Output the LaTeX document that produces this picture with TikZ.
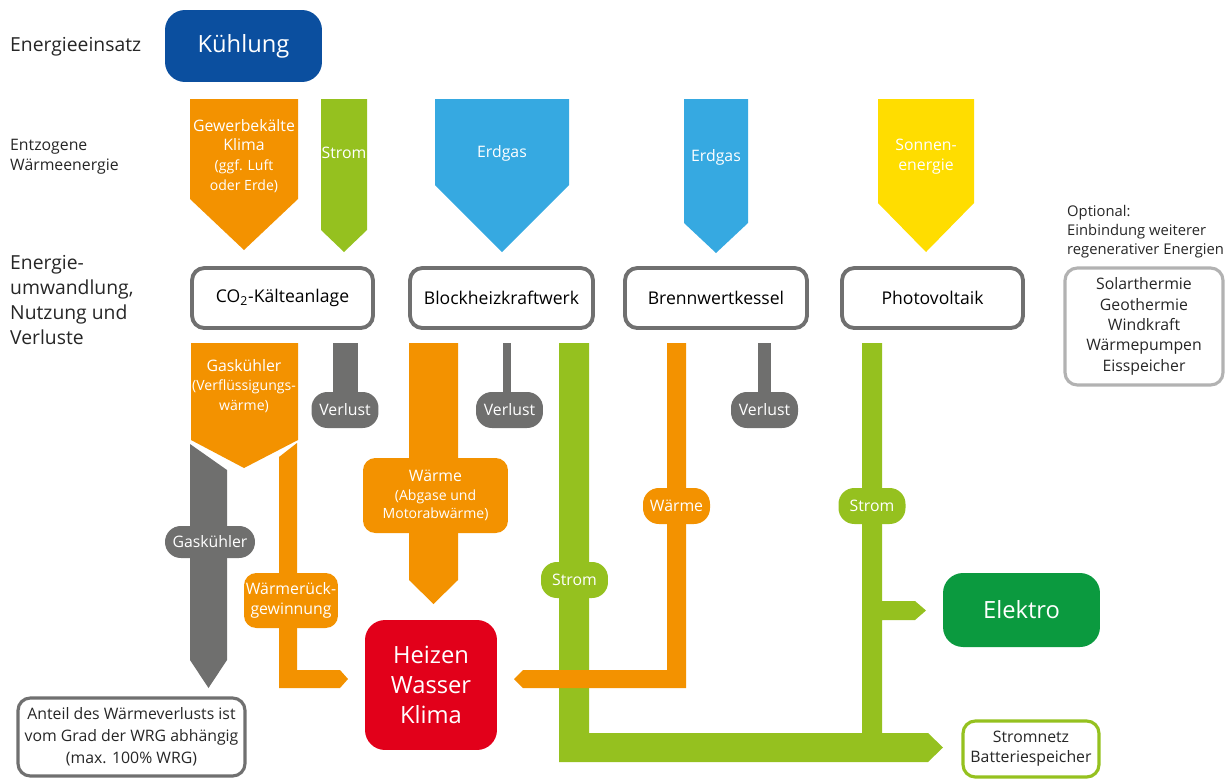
\documentclass[tikz,border=0pt]{standalone}
\usepackage{fontspec}
\setmainfont{Open Sans}
\usetikzlibrary{positioning}

\definecolor{kuehlBlau}{HTML}{0B4F9F}
\definecolor{flowOrange}{HTML}{F39200}
\definecolor{flowGreen}{HTML}{95C11F}
\definecolor{flowBlue}{HTML}{36A9E1}
\definecolor{flowYellow}{HTML}{FFDD00}
\definecolor{flowGray}{HTML}{6F6F6E}
\definecolor{heizRot}{HTML}{E2001A}
\definecolor{elektroGruen}{HTML}{0B9A3F}
\definecolor{boxGray}{HTML}{707070}
\definecolor{optGray}{HTML}{B2B2B2}

\begin{document}
\begin{tikzpicture}[x=0.02cm, y=-0.02cm,
  unit/.style={draw=boxGray, line width=2.2pt, rounded corners=7pt, fill=white,
    minimum width=3.62cm, minimum height=1.2cm, font=\fontsize{10}{12}\selectfont},
  pill/.style={fill=#1, rounded corners=9pt, text=white, minimum width=1.34cm,
    minimum height=0.72cm, inner sep=1pt, font=\fontsize{9}{10}\selectfont},
  flowtext/.style={text=white, align=center, font=\fontsize{9}{11.3}\selectfont},
  sidetext/.style={anchor=west, align=left, text=black!85},
  target/.style={fill=#1, rounded corners=0.4cm, text=white, align=center,
    font=\fontsize{13.5}{17}\selectfont}]

  \useasboundingbox (0,0) rectangle (1231,778);

  % left column
  \node[sidetext, font=\fontsize{11}{13}\selectfont] (einsatz) at (4,47) {Energieeinsatz};
  \node[sidetext, font=\fontsize{9}{11.3}\selectfont] (entzogen) at (4,157) {Entzogene\\Wärmeenergie};
  \node[sidetext, font=\fontsize{11}{14.2}\selectfont] (wandlung) at (4,300) {Energie-\\umwandlung,\\Nutzung und\\Verluste};

  \node[target=kuehlBlau, minimum width=3.14cm, minimum height=1.44cm] (kuehlung) at (243.5,46) {Kühlung};

  % incoming flows
  \fill[flowOrange] (190,99) -- (298,99) -- (298,199) -- (244,250) -- (190,199) -- cycle;
  \fill[flowGreen] (321,99) -- (367,99) -- (367,230) -- (344,252) -- (321,230) -- cycle;
  \fill[flowBlue] (435,99) -- (569,99) -- (569,185) -- (502,252) -- (435,185) -- cycle;
  \fill[flowBlue] (684,99) -- (748,99) -- (748,223) -- (716,253) -- (684,223) -- cycle;
  \fill[flowYellow] (878,99) -- (974,99) -- (974,203) -- (926,252) -- (878,203) -- cycle;

  \node[flowtext] (gewerbe) at (244,156) {Gewerbekälte\\Klima\\{\fontsize{8}{10}\selectfont(ggf. Luft}\\{\fontsize{8}{10}\selectfont oder Erde)}};
  \node[flowtext] (stromein) at (344,153) {Strom};
  \node[flowtext] (gasbhkw) at (502,153) {Erdgas};
  \node[flowtext] (gaskessel) at (716,157) {Erdgas};
  \node[flowtext] (sonne) at (926,157) {Sonnen-\\energie};

  % units
  \node[unit] (co2) at (282.5,298) {CO\textsubscript{2}-Kälteanlage};
  \node[unit, minimum width=3.66cm] (bhkw) at (501.5,298) {Blockheizkraftwerk};
  \node[unit, minimum width=3.64cm] (kessel) at (716,298) {Brennwertkessel};
  \node[unit] (pv) at (932.5,298) {Photovoltaik};

  \node[anchor=north west, align=left, font=\fontsize{8.4}{10.8}\selectfont, text=black!85] (optional) at (1061,199)
    {Optional:\\Einbindung weiterer\\regenerativer Energien};
  \node[draw=optGray, line width=1.8pt, rounded corners=7pt, minimum width=3.16cm, minimum height=2.34cm,
    align=center, font=\fontsize{9}{11.6}\selectfont, text=black!85] (regenerativ) at (1144,326.5)
    {Solarthermie\\Geothermie\\Windkraft\\Wärmepumpen\\Eisspeicher};

  % outgoing flows
  \fill[flowOrange] (191,343) -- (298,343) -- (298,440) -- (244,468) -- (191,440) -- cycle;
  \node[flowtext] (gaskuehler) at (244,386) {Gaskühler\\{\fontsize{8}{10}\selectfont(Verflüssigungs-}\\{\fontsize{8}{10}\selectfont wärme)}};
  \fill[flowGray] (190,444) -- (227,470) -- (227,660) -- (208.5,688) -- (190,660) -- cycle;
  \fill[flowOrange] (279,457) -- (297,443) -- (297,670) -- (340,670) -- (348,679) -- (340,688) -- (279,688) -- cycle;

  \fill[flowGray] (333,343) rectangle (358,400);
  \fill[flowGray] (503,343) rectangle (511,400);
  \fill[flowGray] (758,343) rectangle (771,400);

  \fill[flowOrange] (409,343) -- (458,343) -- (458,580) -- (433.5,604) -- (409,580) -- cycle;
  \fill[flowGreen] (559,343) -- (589,343) -- (589,733) -- (928,733) -- (943,747.5) -- (928,762) -- (559,762) -- cycle;
  \fill[flowOrange] (667,343) -- (686,343) -- (686,688) -- (523,688) -- (514,679) -- (523,670) -- (667,670) -- cycle;
  \fill[flowGreen] (862,343) -- (882,343) -- (882,601) -- (915,601) -- (926,610.5) -- (915,620) -- (882,620) -- (882,733) -- (862,733) -- cycle;

  \node[pill=flowGray] (verlust1) at (345,410) {Verlust};
  \node[pill=flowGray] (verlust2) at (509.5,410) {Verlust};
  \node[pill=flowGray] (verlust3) at (764.5,410) {Verlust};
  \node[pill=flowGray, minimum width=1.8cm, minimum height=0.64cm] (gaskuehlerpill) at (210,542) {Gaskühler};
  \node[pill=flowOrange, minimum width=1.88cm, minimum height=1.1cm, rounded corners=7pt, align=center,
    font=\fontsize{9}{11.3}\selectfont] (wrg) at (291,600.5) {Wärmerück-\\gewinnung};
  \node[pill=flowOrange, minimum width=2.9cm, minimum height=1.5cm, rounded corners=7pt, align=center,
    font=\fontsize{9}{10.5}\selectfont] (abwaerme) at (435.5,495.5)
    {Wärme\\{\fontsize{8}{10}\selectfont(Abgase und}\\{\fontsize{8}{10}\selectfont Motorabwärme)}};
  \node[pill=flowGreen] (strom1) at (574.5,580) {Strom};
  \node[pill=flowOrange] (waerme) at (676.5,506) {Wärme};
  \node[pill=flowGreen] (strom2) at (872,506) {Strom};

  % targets
  \node[target=heizRot, minimum width=2.64cm, minimum height=2.6cm] (heizen) at (431,685) {Heizen\\Wasser\\Klima};
  \node[target=elektroGruen, minimum width=3.14cm, minimum height=1.48cm] (elektro) at (1021.5,610) {Elektro};
  \node[draw=flowGreen, line width=1.8pt, rounded corners=7pt, minimum width=2.72cm, minimum height=1.12cm,
    align=center, font=\fontsize{9}{11.3}\selectfont, text=black!85] (stromnetz) at (1031,749) {Stromnetz\\Batteriespeicher};
  \node[draw=boxGray, line width=1.8pt, rounded corners=7pt, minimum width=4.54cm, minimum height=1.56cm,
    align=center, font=\fontsize{9}{12.5}\selectfont, text=black!85] (anteil) at (131.5,737)
    {Anteil des Wärmeverlusts ist\\vom Grad der WRG abhängig\\(max. 100\% WRG)};
\end{tikzpicture}
\end{document}
